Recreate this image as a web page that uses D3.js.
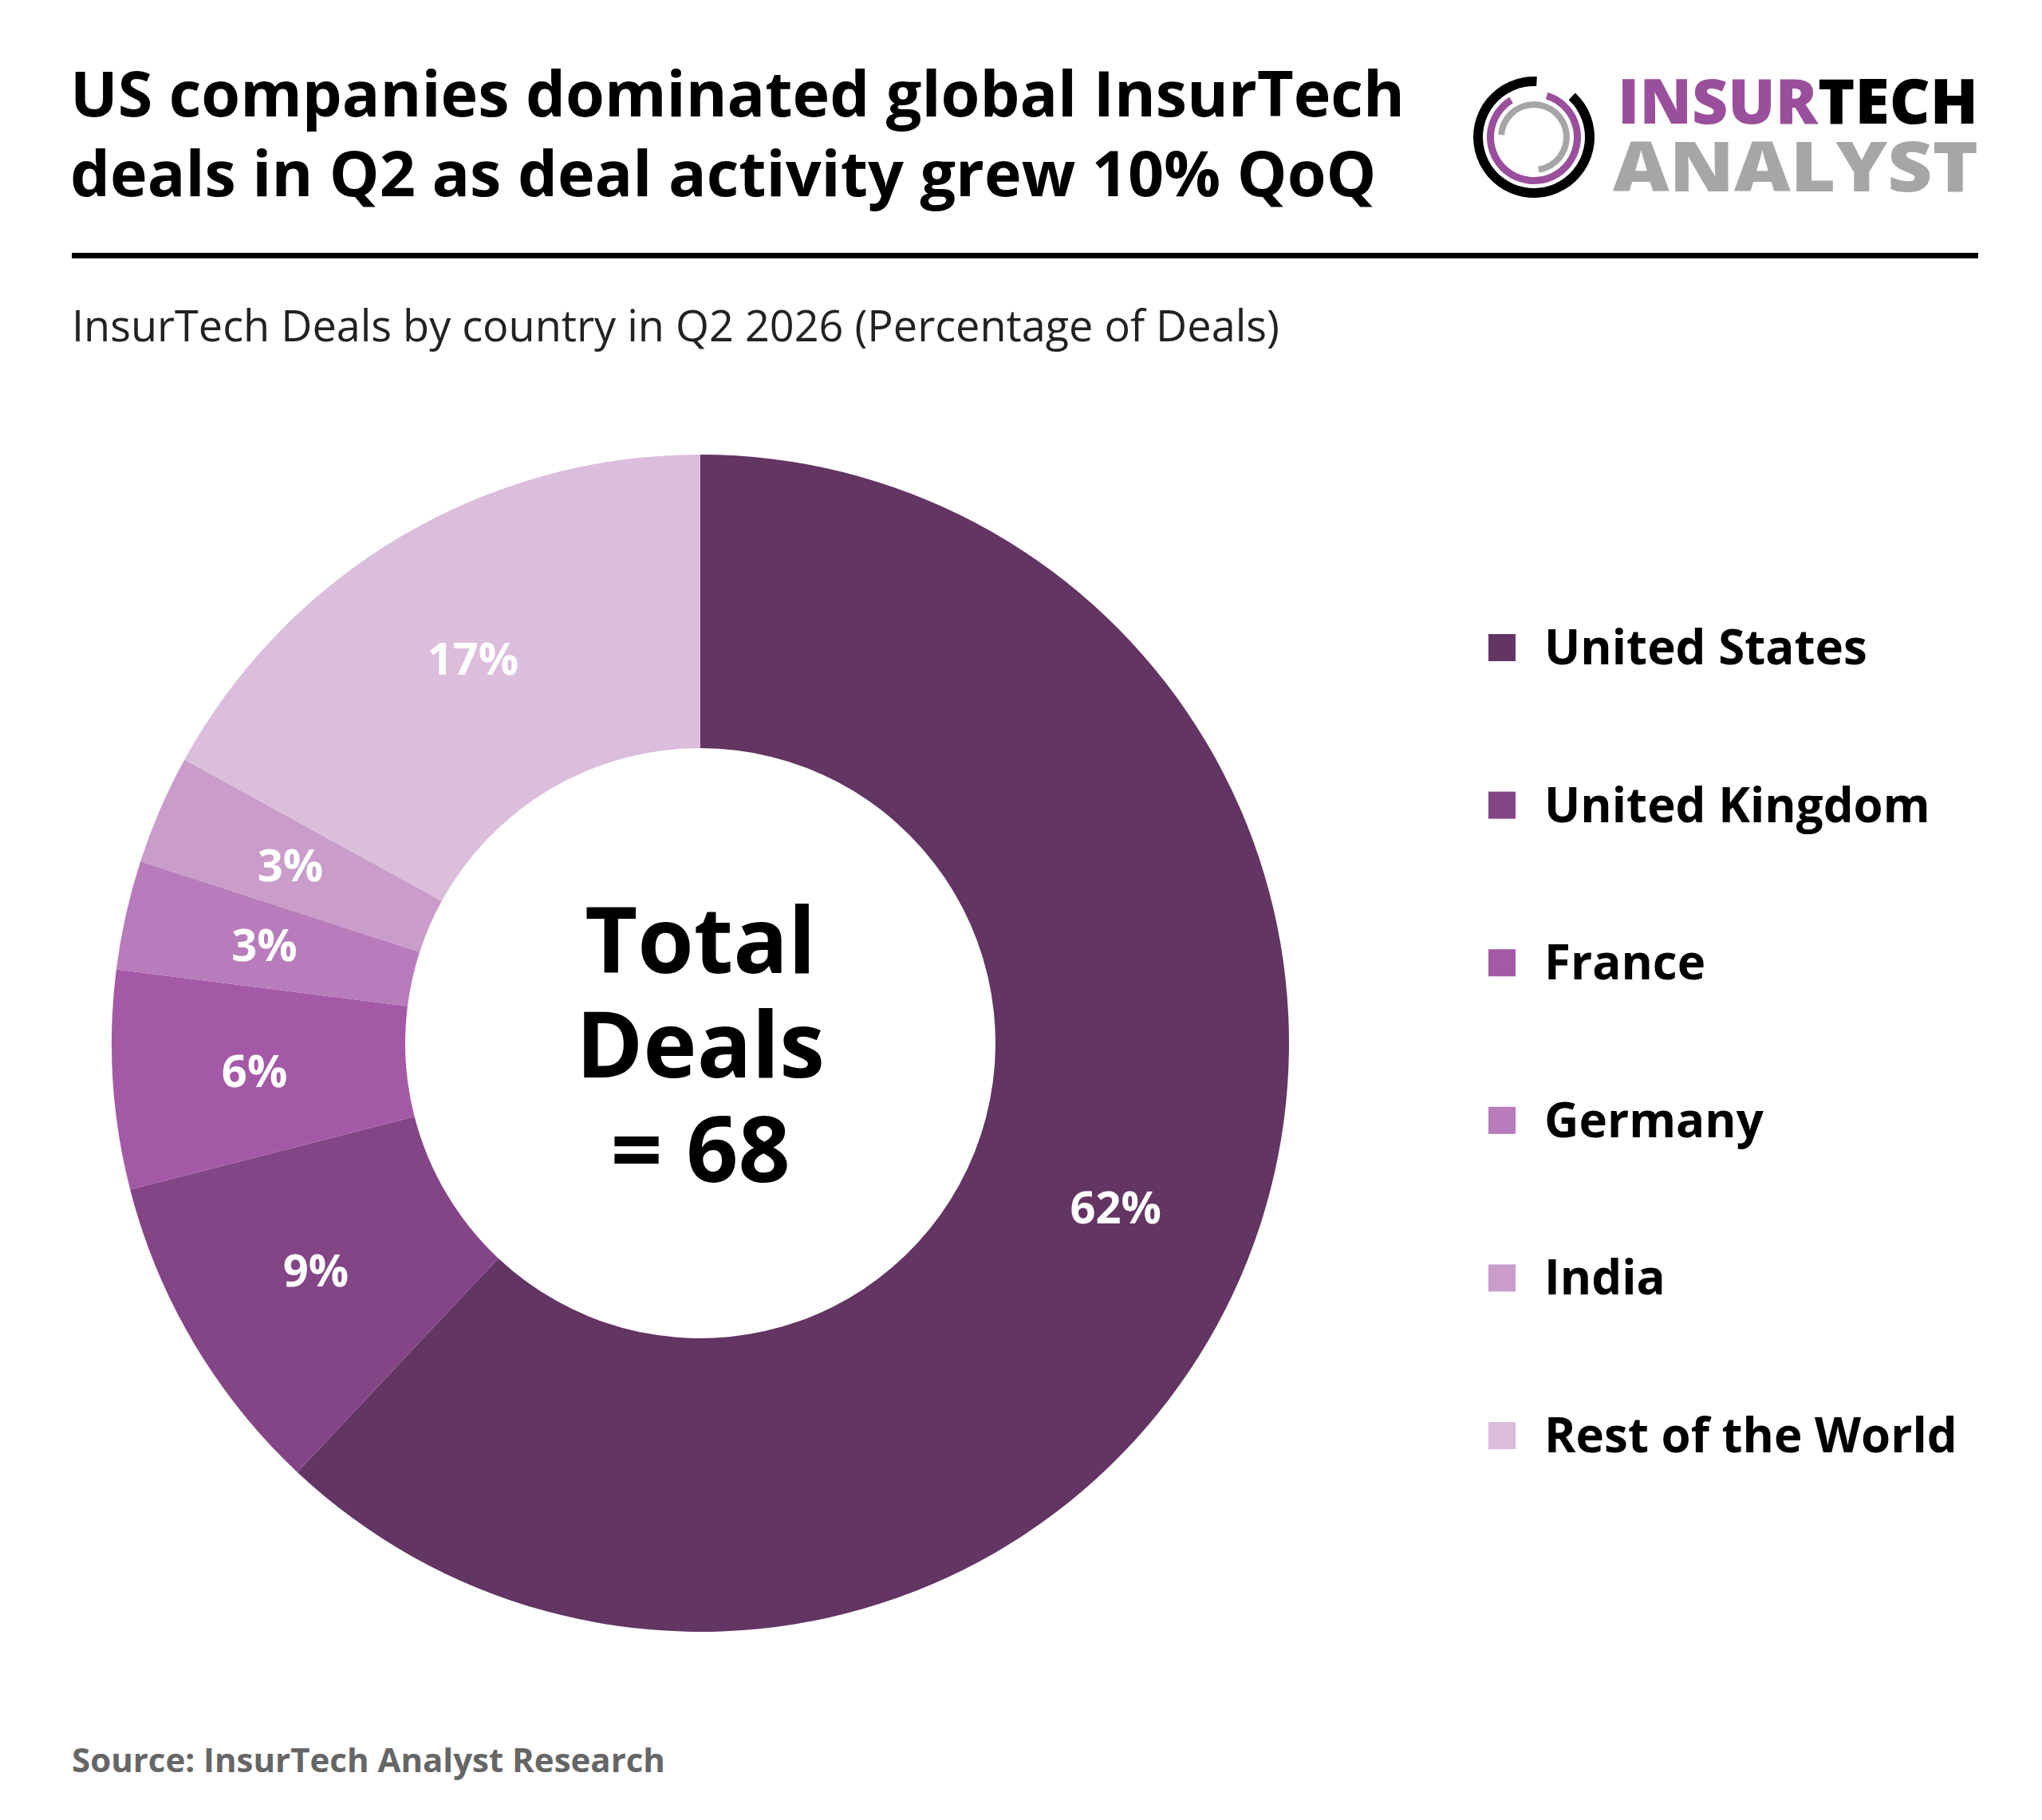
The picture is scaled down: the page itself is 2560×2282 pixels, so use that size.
<!DOCTYPE html>
<html>
<head>
<meta charset="utf-8">
<script src="https://cdn.jsdelivr.net/npm/d3@7"></script>
<style>
body { margin: 0; background: #fff; }
text { font-family: "Open Sans", sans-serif; }
</style>
</head>
<body>
<div id="vis"></div>
<script>
const WIDTH = 2560;
const HEIGHT = 2282;

const countries = ['United States', 'United Kingdom', 'France', 'Germany', 'India', 'Rest of the World'];
const shares = [62, 9, 6, 3, 3, 17];
const colors = ['#633563', '#844587', '#a459a6', '#b87bbb', '#c99cca', '#dbbddc'];

const data = countries.map((c, i) => ({country: c, value: shares[i], color: colors[i]}));

const svg = d3.select('#vis').append('svg')
  .attr('width', WIDTH).attr('height', HEIGHT);

// title
svg.append('text').attr('x', 88).attr('y', 146)
  .attr('font-size', 79).attr('font-weight', 700).attr('fill', '#000')
  .text('US companies dominated global InsurTech');
svg.append('text').attr('x', 88).attr('y', 246)
  .attr('font-size', 79).attr('font-weight', 700).attr('fill', '#000')
  .text('deals in Q2 as deal activity grew 10% QoQ');

// logo
const logo = svg.append('g').attr('transform', 'translate(1923,172)');
logo.append('path').attr('fill', '#000')
  .attr('d', d3.arc().innerRadius(64).outerRadius(76).startAngle(0.75).endAngle(2 * Math.PI + 0.05)());
logo.append('path').attr('fill', '#9a4f9c')
  .attr('d', d3.arc().innerRadius(50).outerRadius(59).startAngle(0.3).endAngle(2 * Math.PI - 0.55)());
logo.append('path').attr('fill', '#a6a6a6')
  .attr('d', d3.arc().innerRadius(37).outerRadius(45).startAngle(-1.5).endAngle(3.0)());
const t1 = svg.append('text').attr('x', 2028).attr('y', 155)
  .attr('font-size', 78).attr('font-weight', 800).attr('font-family', 'Lato, sans-serif')
  .attr('textLength', 452).attr('lengthAdjust', 'spacingAndGlyphs');
t1.append('tspan').attr('fill', '#9a4f9c').text('INSUR');
t1.append('tspan').attr('fill', '#000').text('TECH');
svg.append('text').attr('x', 2022).attr('y', 240)
  .attr('font-size', 86).attr('font-weight', 800).attr('font-family', 'Lato, sans-serif')
  .attr('fill', '#a6a6a6')
  .attr('textLength', 458).attr('lengthAdjust', 'spacingAndGlyphs')
  .text('ANALYST');

// rule
svg.append('rect').attr('x', 90).attr('y', 317).attr('width', 2390).attr('height', 7).attr('fill', '#000');

// subtitle
svg.append('text').attr('x', 90).attr('y', 428)
  .attr('font-size', 54).attr('fill', '#222')
  .text('InsurTech Deals by country in Q2 2026 (Percentage of Deals)');

// donut
const CX = 878, CY = 1308, R_OUT = 738, R_IN = 370;
const pie = d3.pie().value(d => d.value).sort(null);
const arc = d3.arc().innerRadius(R_IN).outerRadius(R_OUT);
const labelArc = d3.arc().innerRadius(560).outerRadius(560);

const g = svg.append('g').attr('transform', `translate(${CX},${CY})`);
const arcs = pie(data);
g.selectAll('.slice').data(arcs).enter().append('path')
  .attr('class', 'slice').attr('d', arc).attr('fill', d => d.data.color);
g.selectAll('.lbl').data(arcs).enter().append('text')
  .attr('class', 'lbl')
  .attr('transform', d => `translate(${labelArc.centroid(d)})`)
  .attr('text-anchor', 'middle').attr('dy', '0.35em')
  .attr('font-size', 56).attr('font-weight', 700).attr('fill', '#fff')
  .text(d => d.data.value + '%');

['Total', 'Deals', '= 68'].forEach((s, i) => {
  g.append('text').attr('x', 0).attr('y', -88 + i * 131)
    .attr('text-anchor', 'middle').attr('font-size', 114).attr('font-weight', 700)
    .attr('fill', '#000').text(s);
});

// legend
const legendY = d3.scalePoint().domain(countries).range([812, 1800]);
const lg = svg.append('g');
lg.selectAll('rect').data(data).enter().append('rect')
  .attr('x', 1866).attr('y', d => legendY(d.country) - 17)
  .attr('width', 34).attr('height', 34).attr('fill', d => d.color);
lg.selectAll('text').data(data).enter().append('text')
  .attr('x', 1936).attr('y', d => legendY(d.country)).attr('dy', '0.35em')
  .attr('font-size', 60).attr('font-weight', 700).attr('fill', '#000')
  .text(d => d.country);

// source
svg.append('text').attr('x', 90).attr('y', 2222)
  .attr('font-size', 42).attr('font-weight', 700).attr('fill', '#666')
  .text('Source: InsurTech Analyst Research');
</script>
</body>
</html>
